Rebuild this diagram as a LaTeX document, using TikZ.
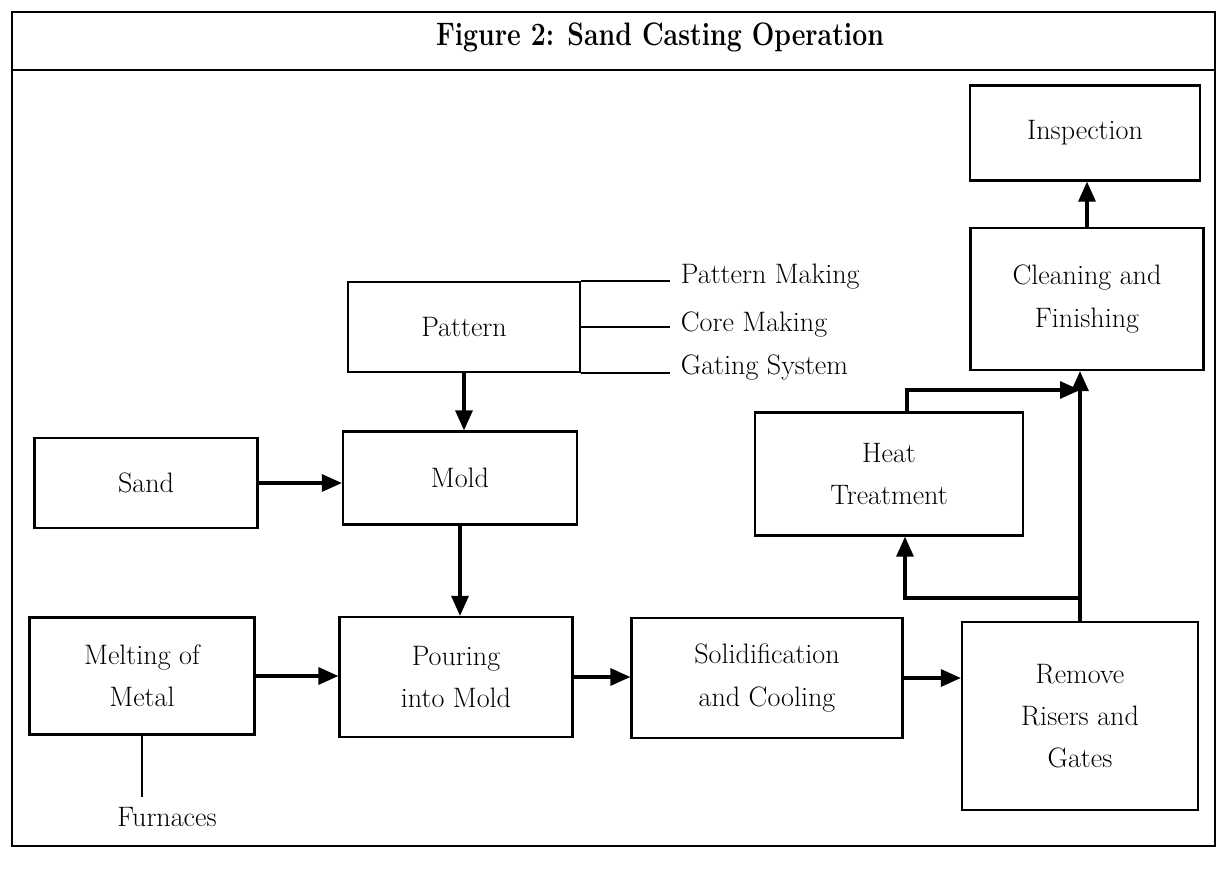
\documentclass[tikz,border=0pt]{standalone}
\usetikzlibrary{arrows.meta}
\begin{document}
\begin{tikzpicture}[x=0.02cm,y=-0.02cm,
  box/.style={draw, line width=1.3pt, align=center, font=\fontsize{16}{24}\selectfont, inner sep=0pt},
  lbl/.style={font=\fontsize{16}{19}\selectfont, inner sep=0pt},
  ttl/.style={font=\fontsize{18.5}{22}\selectfont\bfseries, inner sep=0pt},
  arr/.style={line width=1.8pt, -{Triangle[length=0.4cm,width=0.34cm]}},
  ln/.style={line width=1.3pt}]
\useasboundingbox (0,0) rectangle (1226,878);
\fill[white] (0,0) rectangle (1226,878);
% frame
\draw[ln] (12,12) rectangle (1215,846);
\draw[ln] (12,70) -- (1215,70);
\node[ttl] (title) at (660,37) {\scalebox{0.82}[1]{Figure 2: Sand Casting Operation}};
% boxes
\node[box, minimum width=4.64cm, minimum height=1.8cm] (pattern) at (464,327) {Pattern};
\node[box, minimum width=4.46cm, minimum height=1.8cm] (sand) at (146,483) {Sand};
\node[box, minimum width=4.68cm, minimum height=1.86cm] (mold) at (460,478) {Mold};
\node[box, minimum width=4.5cm, minimum height=2.34cm] (melting) at (142,676) {Melting of\\Metal};
\node[box, minimum width=4.66cm, minimum height=2.4cm] (pouring) at (456,677) {Pouring\\into Mold};
\node[box, minimum width=5.42cm, minimum height=2.4cm] (solid) at (767,678) {Solidification\\and Cooling};
\node[box, minimum width=4.72cm, minimum height=3.76cm] (remove) at (1080,716) {Remove\\Risers and\\Gates};
\node[box, minimum width=5.36cm, minimum height=2.46cm] (heat) at (889,474) {Heat\\Treatment};
\node[box, minimum width=4.66cm, minimum height=2.84cm] (cleaning) at (1087,299) {Cleaning and\\Finishing};
\node[box, minimum width=4.6cm, minimum height=1.9cm] (inspection) at (1085,133) {Inspection};
% pattern sub-items
\node[lbl, anchor=west, inner xsep=6pt] (pmt) at (670,277) {Pattern Making};
\node[lbl, anchor=west, inner xsep=6pt] (cmt) at (670,325) {Core Making};
\node[lbl, anchor=west, inner xsep=6pt] (gst) at (670,368) {Gating System};
\draw[ln] (pattern.north east) -- (pattern.north east -| pmt.west);
\draw[ln] (pattern.east) -- (pattern.east -| cmt.west);
\draw[ln] (pattern.south east) -- (pattern.south east -| gst.west);
% furnaces
\node[lbl] (furn) at (167,817) {Furnaces};
\coordinate (fend) at (melting.south |- 0,797);
\draw[ln] (melting.south) -- (fend);
% arrows
\draw[arr] (sand.east) -- (sand.east -| mold.west);
\draw[arr] (pattern.south) -- (pattern.south |- mold.north);
\draw[arr] (mold.south) -- (mold.south |- pouring.north);
\draw[arr] (melting.east) -- (melting.east -| pouring.west);
\draw[arr] (pouring.east) -- (pouring.east -| solid.west);
\draw[arr] (solid.east) -- (solid.east -| remove.west);
\draw[arr] (remove.north) -- (remove.north |- cleaning.south);
\draw[arr] (cleaning.north) -- (cleaning.north |- inspection.south);
\coordinate (j1) at (remove.north |- 0,598);
\coordinate (j2) at (remove.north |- 0,390);
\draw[arr] (j1) -| ([xshift=0.32cm]heat.south);
\draw[arr] ([xshift=0.36cm]heat.north) |- (j2);
\end{tikzpicture}
\end{document}
